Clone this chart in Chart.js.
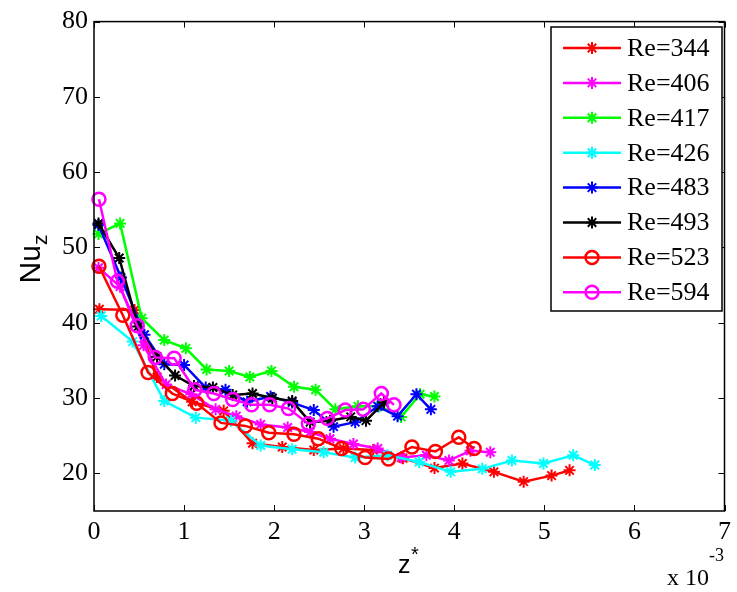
<!DOCTYPE html>
<html>
<head>
<meta charset="utf-8">
<script src="https://cdn.jsdelivr.net/npm/chart.js@4.4.1/dist/chart.umd.min.js"></script>
<style>
  html, body { margin: 0; padding: 0; background: #fff; }
  #wrap { width: 737px; height: 592px; }
</style>
</head>
<body>
<div id="wrap"><canvas id="nuChart" width="737" height="592"></canvas></div>
<script>

// axis ticks
const xTicks = [0, 1, 2, 3, 4, 5, 6, 7];
const yTicks = [20, 30, 40, 50, 60, 70, 80];

// series (z* in units of 1e-3, Nu_z)
const labels = ['Re=344', 'Re=406', 'Re=417', 'Re=426', 'Re=483', 'Re=493', 'Re=523', 'Re=594'];

const z344 = [0.06, 0.45, 0.70, 1.09, 1.44, 1.76, 2.09, 2.44, 2.77, 3.10, 3.43, 3.78, 4.09, 4.44, 4.77, 5.08, 5.28];
const nu344 = [41.8, 41.7, 32.8, 29.5, 28.3, 24.0, 23.5, 23.1, 23.3, 23.1, 22.0, 20.7, 21.3, 20.2, 18.9, 19.7, 20.4];

const z406 = [0.05, 0.29, 0.55, 0.80, 1.08, 1.35, 1.58, 1.85, 2.15, 2.40, 2.62, 2.88, 3.15, 3.41, 3.69, 3.94, 4.18, 4.40];
const nu406 = [47.3, 44.8, 37.0, 31.8, 30.5, 28.5, 27.6, 26.5, 26.1, 25.5, 24.6, 23.9, 23.3, 22.1, 22.4, 21.7, 23.0, 22.8];

const z417 = [0.05, 0.29, 0.53, 0.78, 1.02, 1.25, 1.50, 1.73, 1.97, 2.22, 2.46, 2.68, 2.93, 3.17, 3.41, 3.62, 3.78];
const nu417 = [51.8, 53.2, 40.6, 37.7, 36.6, 33.8, 33.6, 32.8, 33.6, 31.5, 31.1, 28.5, 28.9, 28.9, 27.5, 30.5, 30.2];

const z426 = [0.08, 0.43, 0.78, 1.13, 1.52, 1.85, 2.20, 2.55, 2.90, 3.26, 3.61, 3.96, 4.31, 4.64, 4.99, 5.32, 5.56];
const nu426 = [40.9, 37.5, 29.6, 27.4, 27.0, 23.7, 23.2, 22.8, 22.1, 22.4, 21.5, 20.2, 20.6, 21.7, 21.3, 22.4, 21.1];

const z483 = [0.05, 0.30, 0.56, 0.78, 1.00, 1.24, 1.46, 1.70, 1.96, 2.20, 2.44, 2.66, 2.90, 3.15, 3.37, 3.58, 3.74];
const nu483 = [53.0, 46.0, 38.4, 34.5, 34.4, 31.4, 31.1, 29.5, 30.2, 29.4, 28.4, 26.2, 26.8, 28.9, 27.6, 30.5, 28.5];

const z493 = [0.05, 0.28, 0.49, 0.70, 0.90, 1.11, 1.32, 1.54, 1.76, 1.98, 2.20, 2.40, 2.62, 2.85, 3.02, 3.22];
const nu493 = [53.2, 48.6, 39.5, 35.5, 33.0, 31.6, 31.4, 30.4, 30.6, 30.0, 29.6, 26.8, 27.0, 27.5, 27.0, 29.4];

const z523 = [0.055, 0.32, 0.60, 0.87, 1.14, 1.41, 1.68, 1.94, 2.22, 2.49, 2.75, 3.01, 3.27, 3.53, 3.79, 4.05, 4.22];
const nu523 = [47.5, 41.0, 33.4, 30.6, 29.3, 26.7, 26.3, 25.4, 25.2, 24.6, 23.3, 22.1, 21.9, 23.5, 22.9, 24.8, 23.3];

const z594 = [0.055, 0.26, 0.48, 0.68, 0.89, 1.12, 1.33, 1.54, 1.75, 1.95, 2.16, 2.38, 2.59, 2.79, 2.99, 3.19, 3.33];
const nu594 = [56.4, 45.5, 39.6, 35.4, 35.3, 31.1, 30.6, 29.8, 29.1, 29.1, 28.6, 26.6, 27.3, 28.4, 28.5, 30.6, 29.1];

const colors = ['#ff0000', '#ff00ff', '#00ff00', '#00ffff', '#0000ff', '#000000', '#ff0000', '#ff00ff'];
const markers = ['star', 'star', 'star', 'star', 'star', 'star', 'circle', 'circle'];

const zs = [z344, z406, z417, z426, z483, z493, z523, z594];
const nus = [nu344, nu406, nu417, nu426, nu483, nu493, nu523, nu594];

function pairs(xs, ys) {
    return xs.map((v, i) => ({ x: v, y: ys[i] }));
}

const datasets = labels.map((lab, i) => ({
    label: lab,
    data: pairs(zs[i], nus[i]),
    showLine: true,
    borderColor: colors[i],
    backgroundColor: colors[i],
    borderWidth: 2.5,
    pointStyle: markers[i],
    pointRadius: markers[i] == 'circle' ? 6.5 : 6,
    pointBorderWidth: markers[i] == 'circle' ? 2.5 : 2,
    pointBorderColor: colors[i],
    pointBackgroundColor: markers[i] == 'circle' ? 'rgba(0,0,0,0)' : colors[i],
    clip: false,
    order: labels.length - i
}));

function drawMarker(ctx, style, color, x, y) {
    ctx.strokeStyle = color;
    ctx.beginPath();
    if (style == 'circle') {
        ctx.lineWidth = 2.5;
        ctx.arc(x, y, 6.5, 0, Math.PI * 2);
    } else {
        ctx.lineWidth = 2;
        let r = 6, d = r * Math.SQRT1_2;
        ctx.moveTo(x - r, y); ctx.lineTo(x + r, y);
        ctx.moveTo(x, y - r); ctx.lineTo(x, y + r);
        ctx.moveTo(x - d, y - d); ctx.lineTo(x + d, y + d);
        ctx.moveTo(x - d, y + d); ctx.lineTo(x + d, y - d);
    }
    ctx.stroke();
}

// box, inward ticks, axis titles and legend
const matlabFrame = {
    id: 'matlabFrame',
    afterDraw(chart) {
        const ctx = chart.ctx;
        const a = chart.chartArea;
        const sx = chart.scales.x, sy = chart.scales.y;
        ctx.save();
        ctx.strokeStyle = '#000';
        ctx.lineWidth = 1.5;
        ctx.strokeRect(a.left, a.top, a.right - a.left, a.bottom - a.top);

        ctx.lineWidth = 1;
        ctx.beginPath();
        xTicks.forEach(v => {
            let px = Math.round(sx.getPixelForValue(v)) + 0.5;
            ctx.moveTo(px, a.bottom); ctx.lineTo(px, a.bottom - 6);
            ctx.moveTo(px, a.top); ctx.lineTo(px, a.top + 6);
        });
        yTicks.forEach(v => {
            let py = Math.round(sy.getPixelForValue(v)) + 0.5;
            ctx.moveTo(a.left, py); ctx.lineTo(a.left + 6, py);
            ctx.moveTo(a.right, py); ctx.lineTo(a.right - 6, py);
        });
        ctx.stroke();

        // x title: z*
        ctx.fillStyle = '#000';
        ctx.textBaseline = 'alphabetic';
        ctx.textAlign = 'left';
        ctx.font = '25px "Liberation Sans", Arial, sans-serif';
        ctx.fillText('z', 398, 573);
        ctx.font = '20px "Liberation Sans", Arial, sans-serif';
        ctx.fillText('*', 411, 561);

        // x 10^-3
        ctx.font = '24px "Liberation Serif", "Times New Roman", serif';
        ctx.fillText('x 10', 667, 585);
        ctx.font = '18px "Liberation Serif", "Times New Roman", serif';
        ctx.fillText('-3', 709, 561);

        // y title: Nu_z
        ctx.save();
        ctx.translate(44, 259);
        ctx.rotate(-Math.PI / 2);
        ctx.font = '30px "Liberation Sans", Arial, sans-serif';
        let w1 = ctx.measureText('Nu').width;
        ctx.font = '21px "Liberation Sans", Arial, sans-serif';
        let w2 = ctx.measureText('z').width;
        let x0 = -(w1 + w2) / 2;
        ctx.font = '30px "Liberation Sans", Arial, sans-serif';
        ctx.fillText('Nu', x0, -4);
        ctx.font = '21px "Liberation Sans", Arial, sans-serif';
        ctx.fillText('z', x0 + w1, 3);
        ctx.restore();

        // legend
        const lx = 551, ly = 27, lw = 171, lh = 284;
        ctx.fillStyle = '#fff';
        ctx.fillRect(lx, ly, lw, lh);
        ctx.strokeStyle = '#000';
        ctx.lineWidth = 1.5;
        ctx.strokeRect(lx, ly, lw, lh);
        ctx.font = '26px "Liberation Serif", "Times New Roman", serif';
        ctx.textBaseline = 'middle';
        labels.forEach((lab, i) => {
            let yy = 48 + i * 34.9;
            ctx.strokeStyle = colors[i];
            ctx.lineWidth = 2.5;
            ctx.beginPath();
            ctx.moveTo(563, yy); ctx.lineTo(621, yy);
            ctx.stroke();
            drawMarker(ctx, markers[i], colors[i], 592, yy);
            ctx.fillStyle = '#000';
            ctx.fillText(lab, 627, yy + 1);
        });
        ctx.restore();
    }
};

const serifTicks = { family: '"Liberation Serif", "Times New Roman", serif', size: 26 };

myChart = new Chart(document.getElementById('nuChart'), {
    type: 'scatter',
    data: { datasets: datasets },
    options: {
        responsive: false,
        animation: false,
        events: [],
        layout: { padding: { left: 0, top: 17, right: 8, bottom: 0 } },
        plugins: {
            legend: { display: false },
            tooltip: { enabled: false }
        },
        scales: {
            x: {
                type: 'linear',
                min: 0,
                max: 7,
                afterBuildTicks: (s) => { s.ticks = xTicks.map(v => ({ value: v })); },
                afterFit: (s) => { s.height = 81; },
                grid: { display: false, drawTicks: false },
                border: { display: false },
                ticks: { color: '#000', font: serifTicks, padding: 6, maxRotation: 0 }
            },
            y: {
                type: 'linear',
                min: 15,
                max: 80,
                afterBuildTicks: (s) => { s.ticks = yTicks.map(v => ({ value: v })); },
                afterFit: (s) => { s.width = 94; },
                grid: { display: false, drawTicks: false },
                border: { display: false },
                ticks: { color: '#000', font: serifTicks, padding: 6 }
            }
        }
    },
    plugins: [matlabFrame]
});
</script>
</body>
</html>
